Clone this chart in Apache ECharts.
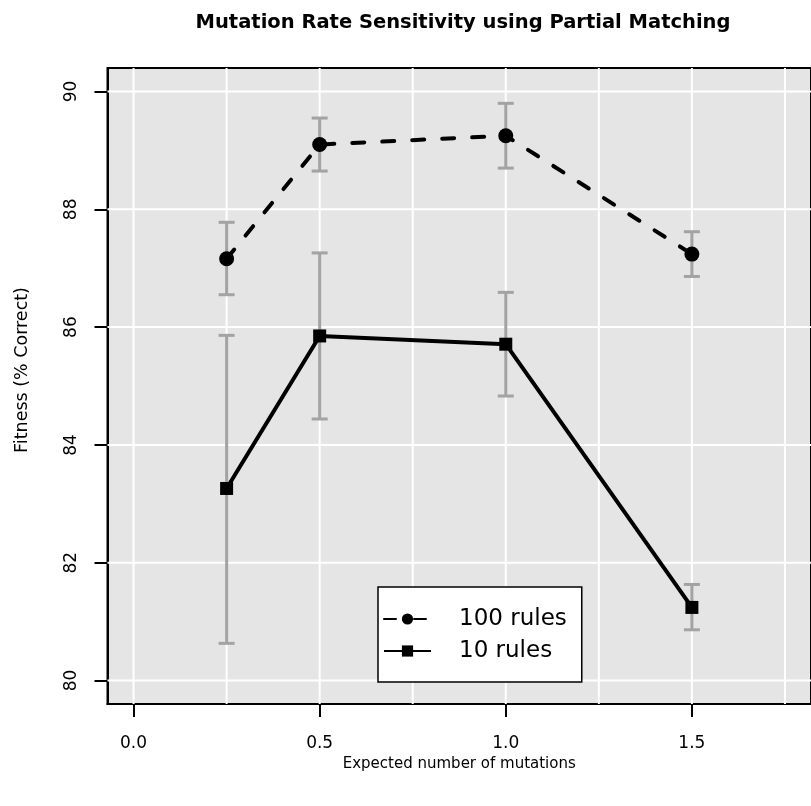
<!DOCTYPE html>
<html>
<head>
<meta charset="utf-8">
<script src="https://cdn.jsdelivr.net/npm/echarts@6/dist/echarts.min.js"></script>
<style>
  html, body { margin: 0; padding: 0; background: #fff; }
  #chart { width: 811px; height: 806px; }
</style>
</head>
<body>
<div id="chart"></div>
<script>
// Expected number of mutations (x positions)
const mutations = [0.25, 0.5, 1.0, 1.5];

// Mean fitness (% correct) and error-bar bounds per population size
const rules100Mean = [87.16, 89.10, 89.25, 87.24];
const rules100Low  = [86.55, 88.65, 88.70, 86.86];
const rules100High = [87.78, 89.55, 89.80, 87.62];

const rules10Mean = [83.26, 85.85, 85.71, 81.24];
const rules10Low  = [80.63, 84.44, 84.83, 80.86];
const rules10High = [85.86, 87.26, 86.59, 81.63];

// Axis ticks and grid positions
const xTicks = [0, 0.5, 1.0, 1.5];
const xGrid = [0, 0.25, 0.5, 0.75, 1.0, 1.25, 1.5, 1.75];
const yTicks = [80, 82, 84, 86, 88, 90];

const X_MIN = -0.07, X_MAX = 1.82;
const Y_MIN = 79.6, Y_MAX = 90.4;

const FONT = 'DejaVu Sans';
const chart = echarts.init(document.getElementById('chart'), null, { renderer: 'canvas' });

function zip(xs, ys) { return xs.map((x, i) => [x, ys[i]]); }

// white background grid lines drawn in data coordinates
const gridLineData = xGrid.map(v => ['v', v]).concat(yTicks.map(v => ['h', v]));

function renderGridLine(params, api) {
  const kind = gridLineData[params.dataIndex][0];
  const v = gridLineData[params.dataIndex][1];
  let p1, p2;
  if (kind === 'v') { p1 = api.coord([v, Y_MIN]); p2 = api.coord([v, Y_MAX]); }
  else { p1 = api.coord([X_MIN, v]); p2 = api.coord([X_MAX, v]); }
  return {
    type: 'line',
    shape: { x1: p1[0], y1: p1[1], x2: p2[0], y2: p2[1] },
    style: { stroke: '#ffffff', lineWidth: 2 }
  };
}

function errorBarSeries(lows, highs) {
  const data = mutations.map((x, i) => [x, lows[i], highs[i]]);
  return {
    type: 'custom',
    data: data,
    z: 3,
    silent: true,
    renderItem: function (params, api) {
      const x = api.value(0);
      const lo = api.coord([x, api.value(1)]);
      const hi = api.coord([x, api.value(2)]);
      const cap = 8;
      const st = { stroke: '#a3a3a3', lineWidth: 3 };
      return {
        type: 'group',
        children: [
          { type: 'line', shape: { x1: lo[0], y1: lo[1], x2: hi[0], y2: hi[1] }, style: st },
          { type: 'line', shape: { x1: lo[0] - cap, y1: lo[1], x2: lo[0] + cap, y2: lo[1] }, style: st },
          { type: 'line', shape: { x1: hi[0] - cap, y1: hi[1], x2: hi[0] + cap, y2: hi[1] }, style: st }
        ]
      };
    }
  };
}

const option = {
  backgroundColor: '#ffffff',
  animation: false,
  title: {
    text: 'Mutation Rate Sensitivity using Partial Matching',
    left: 458,
    top: 8,
    textAlign: 'center',
    textStyle: { fontFamily: FONT, fontSize: 19.5, fontWeight: 'bold', color: '#000' }
  },
  legend: {
    data: ['100 rules', '10 rules'],
    left: 378,
    top: 587,
    orient: 'vertical',
    backgroundColor: '#ffffff',
    borderColor: '#000000',
    borderWidth: 1.5,
    borderRadius: 0,
    padding: [19, 15, 18, 5],
    itemWidth: 47,
    itemHeight: 14,
    itemGap: 6,
    textStyle: { fontFamily: FONT, fontSize: 23, color: '#000', lineHeight: 26, padding: [0, 0, 0, 23] }
  },
  grid: {
    left: 107.5,
    right: -6.4,
    top: 68,
    bottom: 102,
    show: true,
    backgroundColor: '#e5e5e5',
    borderColor: '#000000',
    borderWidth: 2
  },
  xAxis: {
    type: 'value',
    position: 'bottom',
    min: X_MIN,
    max: X_MAX,
    name: 'Expected number of mutations',
    nameLocation: 'middle',
    nameGap: 53,
    nameTextStyle: { fontFamily: FONT, fontSize: 15, color: '#000' },
    axisLine: { show: true, onZero: false, lineStyle: { color: '#000', width: 2 } },
    splitLine: { show: false },
    axisTick: { show: true, inside: false, length: 13, customValues: xTicks, lineStyle: { color: '#000', width: 2 } },
    axisLabel: {
      customValues: xTicks,
      margin: 31,
      fontFamily: FONT, fontSize: 17, color: '#000',
      formatter: v => v.toFixed(1)
    }
  },
  yAxis: {
    type: 'value',
    position: 'left',
    min: Y_MIN,
    max: Y_MAX,
    name: 'Fitness (% Correct)',
    nameLocation: 'middle',
    nameGap: 76,
    nameRotate: 90,
    nameTextStyle: { fontFamily: FONT, fontSize: 17.5, color: '#000', padding: [0, 0, 0, 32] },
    axisLine: { show: true, onZero: false, lineStyle: { color: '#000', width: 2 } },
    splitLine: { show: false },
    axisTick: { show: true, inside: false, length: 13, customValues: yTicks, lineStyle: { color: '#000', width: 2 } },
    axisLabel: {
      customValues: yTicks,
      rotate: 90,
      margin: 27,
      fontFamily: FONT, fontSize: 17, color: '#000',
      formatter: v => String(Math.round(v))
    }
  },
  series: [
    {
      type: 'custom',
      data: gridLineData.map((d, i) => i),
      renderItem: renderGridLine,
      z: 1,
      silent: true
    },
    errorBarSeries(rules100Low, rules100High),
    errorBarSeries(rules10Low, rules10High),
    {
      name: '100 rules',
      type: 'line',
      z: 5,
      data: zip(mutations, rules100Mean),
      symbol: 'circle',
      symbolSize: 15,
      itemStyle: { color: '#000' },
      lineStyle: { color: '#000', width: 4, type: [12, 18], cap: 'round' }
    },
    {
      name: '10 rules',
      type: 'line',
      z: 5,
      data: zip(mutations, rules10Mean),
      symbol: 'rect',
      symbolSize: 13,
      itemStyle: { color: '#000' },
      lineStyle: { color: '#000', width: 4 }
    }
  ]
};

chart.setOption(option);
</script>
</body>
</html>
